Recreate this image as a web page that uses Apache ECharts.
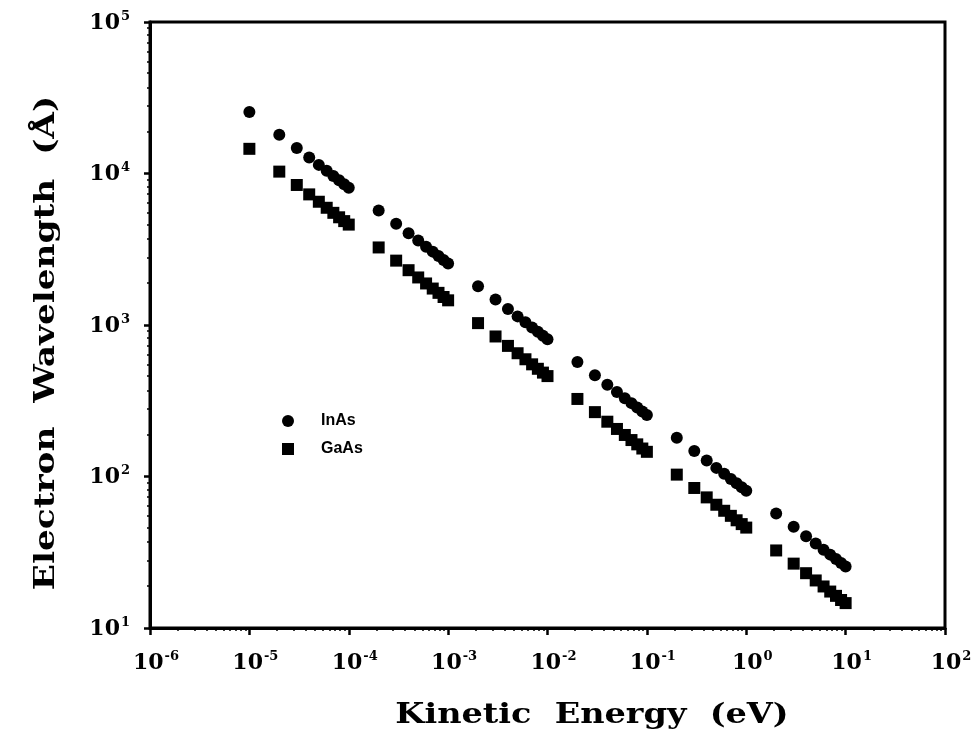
<!DOCTYPE html>
<html>
<head>
<meta charset="utf-8">
<script src="https://cdn.jsdelivr.net/npm/echarts@6/dist/echarts.min.js"></script>
<style>
  html, body { margin: 0; padding: 0; background: #fff; }
  #chart { width: 976px; height: 741px; }
</style>
</head>
<body>
<div id="chart"></div>
<script>
// Kinetic energy (eV) of each computed point
const energy = [
  1e-5, 2e-5, 3e-5, 4e-5, 5e-5, 6e-5, 7e-5, 8e-5, 9e-5,
  1e-4, 2e-4, 3e-4, 4e-4, 5e-4, 6e-4, 7e-4, 8e-4, 9e-4,
  1e-3, 2e-3, 3e-3, 4e-3, 5e-3, 6e-3, 7e-3, 8e-3, 9e-3,
  1e-2, 2e-2, 3e-2, 4e-2, 5e-2, 6e-2, 7e-2, 8e-2, 9e-2,
  0.1, 0.2, 0.3, 0.4, 0.5, 0.6, 0.7, 0.8, 0.9,
  1, 2, 3, 4, 5, 6, 7, 8, 9,
  10
];

// Electron wavelength (Å) in InAs
const inasWavelength = [
  25500, 18030, 14720, 12750, 11400, 10410, 9640, 9020, 8500,
  8060, 5700, 4660, 4030, 3610, 3290, 3050, 2850, 2690,
  2550, 1803, 1472, 1275, 1140, 1041, 964, 902, 850,
  806, 570, 466, 403, 361, 329, 305, 285, 269,
  255, 180.3, 147.2, 127.5, 114.0, 104.1, 96.4, 90.2, 85.0,
  80.6, 57.0, 46.6, 40.3, 36.1, 32.9, 30.5, 28.5, 26.9,
  25.5
];

// Electron wavelength (Å) in GaAs
const gaasWavelength = [
  14550, 10290, 8400, 7280, 6510, 5940, 5500, 5140, 4850,
  4600, 3250, 2660, 2300, 2060, 1880, 1740, 1630, 1530,
  1455, 1029, 840, 728, 651, 594, 550, 514, 485,
  460, 325, 266, 230, 206, 188, 174, 163, 153,
  145.5, 102.9, 84.0, 72.8, 65.1, 59.4, 55.0, 51.4, 48.5,
  46.0, 32.5, 26.6, 23.0, 20.6, 18.8, 17.4, 16.3, 15.3,
  14.6
];

const seriesNames = ['InAs', 'GaAs'];
const xTitle = 'Kinetic  Energy  (eV)';
const yTitle = 'Electron  Wavelength  (Å)';

const serif = '"DejaVu Serif", "Liberation Serif", serif';

function powerLabel(value) {
  const exp = Math.round(Math.log10(value));
  return '{b|10}{e|' + exp + '}';
}

function powerRich(leftPad) {
  return {
    b: { fontFamily: serif, fontWeight: 'bold', fontSize: 22, color: '#000', verticalAlign: 'bottom', padding: [0, 0, 0, leftPad] },
    e: { fontFamily: serif, fontWeight: 'bold', fontSize: 13, color: '#000', verticalAlign: 'bottom', padding: [0, 0, 11, 1] }
  };
}

const chart = echarts.init(document.getElementById('chart'), null, { renderer: 'canvas' });

chart.setOption({
  backgroundColor: '#fff',
  animation: false,
  grid: {
    left: 150, right: 31, top: 22, bottom: 113,
    show: true, borderColor: '#000', borderWidth: 3
  },
  legend: {
    orient: 'vertical',
    left: 277, top: 408,
    itemWidth: 12, itemHeight: 12, itemGap: 12,
    data: [
      { name: seriesNames[0], icon: 'circle' },
      { name: seriesNames[1], icon: 'rect' }
    ],
    textStyle: {
      fontFamily: '"Liberation Sans", Arial, sans-serif',
      fontWeight: 'bold',
      fontSize: 16, color: '#000', padding: [0, 0, 0, 22]
    }
  },
  graphic: [
    {
      type: 'text',
      x: 592, y: 716,
      scaleX: 1.24,
      style: {
        text: xTitle,
        font: 'bold 27px ' + serif,
        fill: '#000',
        align: 'center',
        verticalAlign: 'middle'
      }
    },
    {
      type: 'text',
      x: 47, y: 343,
      rotation: Math.PI / 2,
      scaleX: 1.27,
      style: {
        text: yTitle,
        font: 'bold 27px ' + serif,
        fill: '#000',
        align: 'center',
        verticalAlign: 'middle'
      }
    }
  ],
  xAxis: {
    type: 'log', logBase: 10,
    min: 1e-6, max: 1e2, interval: 1,
    axisLine: { show: true, lineStyle: { color: '#000', width: 3 } },
    axisTick: { show: true, inside: false, length: 7, lineStyle: { color: '#000', width: 2.5 } },
    minorTick: { show: true, splitNumber: 10, length: 3, lineStyle: { color: '#000', width: 1.5 } },
    splitLine: { show: false },
    axisLabel: { margin: 22, formatter: powerLabel, rich: powerRich(12) }
  },
  yAxis: {
    type: 'log', logBase: 10,
    min: 1e1, max: 1e5, interval: 1,
    axisLine: { show: true, lineStyle: { color: '#000', width: 3 } },
    axisTick: { show: true, inside: false, length: 6, lineStyle: { color: '#000', width: 2.5 } },
    minorTick: { show: true, splitNumber: 10, length: 3, lineStyle: { color: '#000', width: 1.5 } },
    splitLine: { show: false },
    axisLabel: { margin: 20, formatter: powerLabel, rich: powerRich(0) }
  },
  series: [
    {
      name: seriesNames[0],
      type: 'scatter',
      symbol: 'circle',
      symbolSize: 12,
      itemStyle: { color: '#000', opacity: 1 },
      data: energy.map((e, i) => [e, inasWavelength[i]])
    },
    {
      name: seriesNames[1],
      type: 'scatter',
      symbol: 'rect',
      symbolSize: 12,
      itemStyle: { color: '#000', opacity: 1 },
      data: energy.map((e, i) => [e, gaasWavelength[i]])
    }
  ]
});
</script>
</body>
</html>
